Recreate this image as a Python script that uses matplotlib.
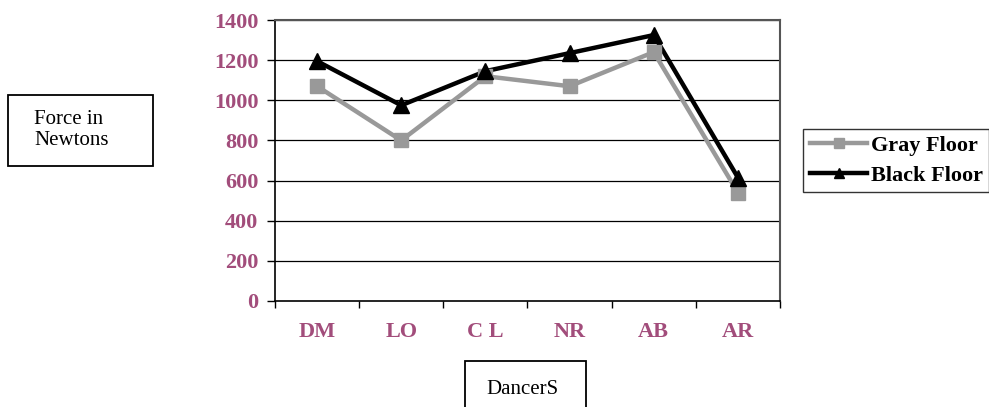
import matplotlib
matplotlib.use("Agg")
import matplotlib.pyplot as plt
from matplotlib.lines import Line2D

dancers = ["DM", "LO", "C L", "NR", "AB", "AR"]
gray_floor = [1070, 800, 1120, 1070, 1240, 540]
black_floor = [1195, 975, 1145, 1235, 1325, 615]
yticks = [0, 200, 400, 600, 800, 1000, 1200, 1400]

TICK_COL = "#a24d7b"
GRAY = "#999999"
SERIF = "Liberation Serif"

fig = plt.figure(figsize=(9.89, 4.07), dpi=100)
ax = fig.add_axes([275 / 989, 1 - 301 / 407, 505 / 989, 281 / 407])

x = list(range(len(dancers)))
ax.plot(x, gray_floor, color=GRAY, lw=3.2, zorder=3, solid_joinstyle="miter")
ax.plot(x, black_floor, color="black", lw=3.2, zorder=4, solid_joinstyle="miter")
ax.plot(x, gray_floor, ls="none", marker="s", ms=10.5, color=GRAY, zorder=5)
ax.plot(x, black_floor, ls="none", marker="^", ms=11, color="black", zorder=6)

ax.set_xlim(-0.5, len(dancers) - 0.5)
ax.set_ylim(0, 1400)
ax.set_yticks(yticks)
ax.set_yticklabels([str(v) for v in yticks])
for v in yticks[1:]:
    ax.axhline(v, color="black", lw=0.9, zorder=1)

ax.set_xticks([i - 0.5 for i in range(len(dancers) + 1)])
ax.set_xticklabels([])
ax.set_xticks(x, minor=True)
ax.set_xticklabels(dancers, minor=True)
ax.tick_params(axis="x", which="minor", length=0, pad=15,
               labelsize=16, labelcolor=TICK_COL)
ax.tick_params(axis="x", which="major", length=5, width=1, direction="out")
ax.tick_params(axis="y", length=6, width=1, direction="out", pad=6,
               labelsize=16, labelcolor=TICK_COL)
for lab in ax.get_xticklabels(minor=True) + ax.get_yticklabels():
    lab.set_fontfamily(SERIF)
    lab.set_fontweight("bold")

for s in ["top", "right"]:
    ax.spines[s].set_color("#555555")
    ax.spines[s].set_linewidth(1.5)
ax.spines["left"].set_linewidth(1.2)
ax.spines["bottom"].set_linewidth(1.2)

# legend
handles = [
    Line2D([], [], color=GRAY, lw=3.2, marker="s", ms=6.5),
    Line2D([], [], color="black", lw=3.2, marker="^", ms=7),
]
leg = fig.legend(handles, ["Gray Floor", "Black Floor"],
                 loc="upper left", bbox_to_anchor=(803 / 989, 1 - 129 / 407),
                 frameon=True, fancybox=False, handlelength=2.6,
                 handletextpad=0.15, borderpad=0.3, labelspacing=0.4,
                 borderaxespad=0,
                 prop={"family": SERIF, "weight": "bold", "size": 16})
leg.get_frame().set_edgecolor("black")
leg.get_frame().set_linewidth(1.0)

# axis title boxes
fig.patches.append(plt.Rectangle((8 / 989, 1 - 166 / 407), 145 / 989, 71 / 407,
                                 transform=fig.transFigure, fill=False,
                                 ec="black", lw=1.3))
fig.text(34 / 989, 1 - 130 / 407, "Force in\nNewtons", family=SERIF,
         fontsize=15, va="center", ha="left", linespacing=1.2)
fig.patches.append(plt.Rectangle((465 / 989, -0.01), 121 / 989, 1 - 361 / 407 + 0.01,
                                 transform=fig.transFigure, fill=False,
                                 ec="black", lw=1.3))
fig.text(522 / 989, 1 - 390 / 407, "DancerS", family=SERIF,
         fontsize=15, va="center", ha="center")

fig.savefig("out.png", dpi=100)
